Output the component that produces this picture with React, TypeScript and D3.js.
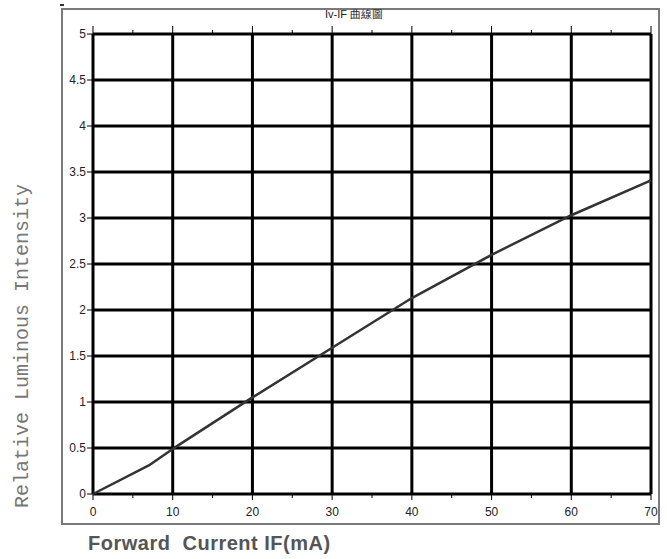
import React from 'react';
import * as d3 from 'd3';

const CURRENT = [0, 7, 10, 20, 30, 40, 50, 60, 70];
const INTENSITY = [0, 0.31, 0.49, 1.05, 1.59, 2.13, 2.6, 3.03, 3.41];
const X_TICKS = [0, 10, 20, 30, 40, 50, 60, 70];
const X_MINOR = [5, 15, 25, 35, 45, 55, 65];
const Y_TICKS = [0, 0.5, 1, 1.5, 2, 2.5, 3, 3.5, 4, 4.5, 5];

const W = 667;
const H = 559;

const App: React.FC = () => {
  const x = d3.scaleLinear().domain([0, 70]).range([93, 651]);
  const y = d3.scaleLinear().domain([0, 5]).range([494, 34]);

  const line = d3.line<number>()
    .x((d, i) => x(CURRENT[i]))
    .y(d => y(d));

  const tickFont = '"Liberation Sans Narrow", "Arial Narrow", "Liberation Sans", sans-serif';

  return (
    <svg width={W} height={H} viewBox={`0 0 ${W} ${H}`}
      style={{ position: 'absolute', left: 0, top: 0, background: '#fff' }}>
      {/* outer frame */}
      <rect x={62} y={9} width={597} height={515} fill="none" stroke="#7a7a7a" strokeWidth={2} />
      <rect x={60} y={4} width={4} height={2} fill="#333" />

      <text x={354} y={18} textAnchor="middle" fontFamily={tickFont} fontSize={11} fill="#222">
        Iv-IF 曲線圖
      </text>

      {/* grid */}
      {Y_TICKS.map(t => (
        <line key={`h${t}`} x1={x(0)} x2={x(70)} y1={y(t)} y2={y(t)} stroke="#000" strokeWidth={3} />
      ))}
      {X_TICKS.map(t => (
        <line key={`v${t}`} x1={x(t)} x2={x(t)} y1={y(0)} y2={y(5)} stroke="#000" strokeWidth={3} />
      ))}

      {/* ticks */}
      {X_TICKS.map(t => (
        <g key={`xt${t}`}>
          <line x1={x(t)} x2={x(t)} y1={y(5)} y2={y(5) - 8} stroke="#000" strokeWidth={1} />
          <line x1={x(t)} x2={x(t)} y1={y(0)} y2={y(0) + 6} stroke="#000" strokeWidth={1} />
          <text x={x(t)} y={y(0) + 22} textAnchor="middle" fontFamily={tickFont} fontSize={12} fill="#222">
            {t}
          </text>
        </g>
      ))}
      {X_MINOR.map(t => (
        <g key={`xm${t}`}>
          <line x1={x(t)} x2={x(t)} y1={y(5)} y2={y(5) - 4} stroke="#000" strokeWidth={1} />
          <line x1={x(t)} x2={x(t)} y1={y(0)} y2={y(0) + 4} stroke="#000" strokeWidth={1} />
        </g>
      ))}
      {Y_TICKS.map(t => (
        <g key={`yt${t}`}>
          <line x1={x(0) - 6} x2={x(0)} y1={y(t)} y2={y(t)} stroke="#000" strokeWidth={1} />
          <text x={x(0) - 7} y={y(t) + 4} textAnchor="end" fontFamily={tickFont} fontSize={12} fill="#222">
            {t}
          </text>
        </g>
      ))}

      {/* curve */}
      <path d={line(INTENSITY) ?? ''} fill="none" stroke="#333" strokeWidth={2.5} strokeLinejoin="round" />

      {/* axis titles */}
      <text transform="translate(28,346) rotate(-90)" textAnchor="middle"
        fontFamily='"Liberation Mono", "Courier New", monospace' fontSize={20} fill="#777">
        Relative Luminous Intensity
      </text>
      <text x={88} y={550} xmlSpace="preserve" fontFamily='"Liberation Sans", Arial, sans-serif'
        fontSize={20} letterSpacing={0.5} fontWeight="bold" fill="#555">
        {'Forward  Current IF(mA)'}
      </text>
    </svg>
  );
};

export default App;
